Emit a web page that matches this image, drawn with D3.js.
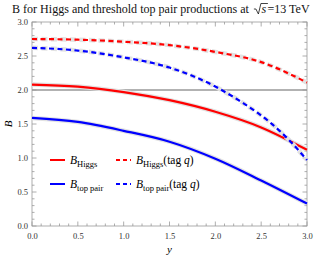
<!DOCTYPE html>
<html>
<head>
<meta charset="utf-8">
<script src="https://cdn.jsdelivr.net/npm/d3@7"></script>
<style>
  body { margin: 0; background: #fff; }
  text { font-family: "Liberation Serif", "DejaVu Serif", serif; }
</style>
</head>
<body>
<div id="chart"></div>
<script>
// data
var rapidity = [0, 0.5, 1, 1.5, 2, 2.5, 3];
var higgs = [2.08, 2.05, 1.97, 1.85, 1.68, 1.45, 1.12];
var higgsTag = [2.75, 2.74, 2.71, 2.66, 2.56, 2.41, 2.11];
var topPair = [1.59, 1.53, 1.40, 1.24, 0.99, 0.67, 0.33];
var topPairTagX = [0, 0.5, 1, 1.5, 2, 2.3, 2.6, 2.8, 3];
var topPairTag = [2.62, 2.58, 2.48, 2.33, 2.05, 1.81, 1.52, 1.27, 0.97];
var refLine = 2.0;
var tickVals = [0, 0.5, 1, 1.5, 2, 2.5, 3];

var svgWidth = 321, svgHeight = 260;
var margin = {top: 22, right: 14, bottom: 34, left: 32};
var width = svgWidth - margin.left - margin.right;
var height = svgHeight - margin.top - margin.bottom;

var svg = d3.select("#chart").append("svg")
    .attr("width", svgWidth)
    .attr("height", svgHeight);

var g = svg.append("g")
    .attr("transform", `translate(${margin.left}, ${margin.top})`);

var x = d3.scaleLinear().domain([0, 3]).range([0, width]);
var y = d3.scaleLinear().domain([0, 3]).range([height, 0]);

// title, sized so it runs from x=12 to about x=250 before the sqrt
var title = svg.append("text")
    .attr("x", 12).attr("y", 13)
    .attr("font-size", 12)
    .attr("fill", "#111")
    .text("B for Higgs and threshold top pair productions at");
var tw = title.node().getComputedTextLength();
var fs = 12 * 237 / tw;
title.attr("font-size", fs);
tw = title.node().getComputedTextLength();
var sx = 12 + tw + 5;
var sq = svg.append("g").attr("transform", `translate(${sx},13)`);
sq.append("path")
    .attr("d", "M0,-4 L2,-4 L4.5,1 L7,-9.5 L14,-9.5")
    .attr("fill", "none").attr("stroke", "#111").attr("stroke-width", 0.8);
sq.append("text").attr("x", 7.5).attr("y", 0)
    .attr("font-size", fs).attr("font-style", "italic").attr("fill", "#111").text("s");
sq.append("text").attr("x", 13.5).attr("y", 0)
    .attr("font-size", fs).attr("fill", "#111").text("=13 TeV");

// ticks, frame with ticks inside on all sides
var minor = d3.range(0, 3.001, 0.1).filter(d => Math.abs(d * 2 - Math.round(d * 2)) > 1e-6);
var frame = g.append("g").attr("stroke", "#999").attr("stroke-width", 0.8);
frame.append("rect").attr("x", 0).attr("y", 0).attr("width", width).attr("height", height)
    .attr("fill", "none");

function tickSet(vals, len) {
  vals.forEach(function(v) {
    frame.append("line").attr("x1", x(v)).attr("x2", x(v)).attr("y1", height).attr("y2", height - len);
    frame.append("line").attr("x1", x(v)).attr("x2", x(v)).attr("y1", 0).attr("y2", len);
    frame.append("line").attr("y1", y(v)).attr("y2", y(v)).attr("x1", 0).attr("x2", len);
    frame.append("line").attr("y1", y(v)).attr("y2", y(v)).attr("x1", width).attr("x2", width - len);
  });
}
tickSet(tickVals, 4.5);
tickSet(minor, 2.5);

// tick labels through axes
var xAxis = d3.axisBottom(x).tickValues(tickVals).tickFormat(d3.format(".1f")).tickSize(0).tickPadding(7);
var yAxis = d3.axisLeft(y).tickValues(tickVals).tickFormat(d3.format(".1f")).tickSize(0).tickPadding(4);
g.append("g").attr("transform", `translate(0, ${height})`).call(xAxis)
    .call(a => a.select(".domain").remove());
g.append("g").call(yAxis).call(a => a.select(".domain").remove());
g.selectAll(".tick text")
    .attr("font-size", 8.5)
    .attr("fill", "#333");

// axis titles
g.append("text")
    .attr("x", width / 2).attr("y", height + 27)
    .attr("text-anchor", "middle")
    .attr("font-size", 11).attr("font-style", "italic").text("y");
g.append("text")
    .attr("transform", `translate(-20, ${height / 2}) rotate(-90)`)
    .attr("text-anchor", "middle")
    .attr("font-size", 11).attr("font-style", "italic").text("B");

// reference line at 2
g.append("line")
    .attr("x1", 0).attr("x2", width)
    .attr("y1", y(refLine)).attr("y2", y(refLine))
    .attr("stroke", "#999").attr("stroke-width", 1.3);

var line = d3.line().x(d => x(d[0])).y(d => y(d[1])).curve(d3.curveMonotoneX);

function curve(xs, ys, color, dashed) {
  var pts = xs.map((v, i) => [v, ys[i]]);
  g.append("path").attr("d", line(pts)).attr("fill", "none")
      .attr("stroke", "#e2e2e2").attr("stroke-width", 4.5)
      .attr("stroke-dasharray", dashed ? "6,3.5" : null);
  g.append("path").attr("d", line(pts)).attr("fill", "none")
      .attr("stroke", color).attr("stroke-width", 2.2)
      .attr("stroke-dasharray", dashed ? "5,3.5" : null);
}
curve(rapidity, higgs, "#f00", false);
curve(rapidity, topPair, "#00f", false);
curve(rapidity, higgsTag, "#f00", true);
curve(topPairTagX, topPairTag, "#00f", true);

// legend
var legend = svg.append("g").attr("font-size", 11.5);
var rows = [
  {c: "#f00", dash: false, sub: "Higgs", tag: false, lx: 50, ly: 160},
  {c: "#f00", dash: true, sub: "Higgs", tag: true, lx: 116, ly: 160},
  {c: "#00f", dash: false, sub: "top pair", tag: false, lx: 50, ly: 184},
  {c: "#00f", dash: true, sub: "top pair", tag: true, lx: 116, ly: 184}
];
rows.forEach(function(r) {
  legend.append("line")
      .attr("x1", r.lx).attr("x2", r.lx + 15).attr("y1", r.ly).attr("y2", r.ly)
      .attr("stroke", r.c).attr("stroke-width", 2)
      .attr("stroke-dasharray", r.dash ? "4,3" : null);
  var t = legend.append("text").attr("x", r.lx + 20).attr("y", r.ly + 4);
  t.append("tspan").attr("font-style", "italic").text("B");
  t.append("tspan").attr("font-size", 8.5).attr("dy", 2.5).text(r.sub);
  if (r.tag) {
    t.append("tspan").attr("dy", -2.5).text("(tag ");
    t.append("tspan").attr("font-style", "italic").text("q");
    t.append("tspan").text(")");
  }
});
</script>
</body>
</html>
